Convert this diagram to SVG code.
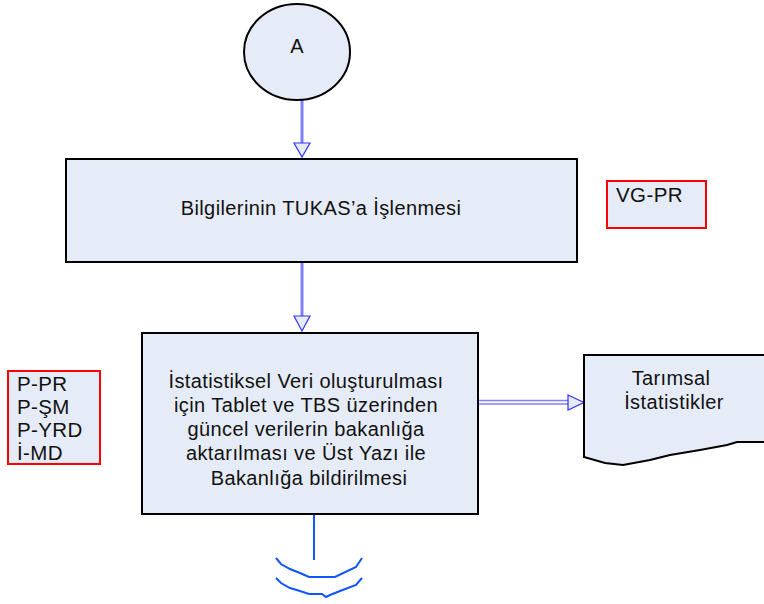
<svg xmlns="http://www.w3.org/2000/svg" width="764" height="604" viewBox="0 0 764 604">
<style>
.shape{fill:#e6ecf7;stroke:#000;stroke-width:2}
.tag{fill:#e6ecf7;stroke:#ff0000;stroke-width:2}
.t{font-family:"Liberation Sans",Arial,sans-serif;font-size:20px;letter-spacing:0.4px;fill:#111}
.tl{font-family:"Liberation Sans",Arial,sans-serif;font-size:20.5px;letter-spacing:0.4px;fill:#111}
.ln{stroke:#7f7fff;stroke-width:3;fill:none}
.head{fill:#e6ecf7;stroke:#3333ff;stroke-width:1.2}
.dl{stroke:#7f7fff;stroke-width:1.3;fill:none}
.bl{stroke:#1155ff;stroke-width:2;fill:none}
</style>
<g id="connectors">
<line class="ln" x1="302" y1="100" x2="302" y2="144"/>
<polygon class="head" points="294,143 310,143 302,157"/>
<line class="ln" x1="302" y1="262" x2="302" y2="317"/>
<polygon class="head" points="294,316 310,316 302,331"/>
<line class="dl" x1="478" y1="400.5" x2="569" y2="400.5"/>
<line class="dl" x1="478" y1="404" x2="569" y2="404"/>
<polygon class="head" points="568,395 584,402.5 568,410"/>
<line class="bl" x1="314" y1="514" x2="314" y2="560"/>
<path class="bl" d="M276,558 L281,564 L290,569 L300,573 L309,577 L335,577 L356,567 L362,558"/>
<path class="bl" d="M276,578 L281,583 L290,588 L300,591 L309,594 L322,594 L326,597 L330,595 L340,591 L356,585 L362,578"/>
</g>
<g id="nodeA">
<ellipse class="shape" cx="297" cy="52" rx="53" ry="48"/>
<text class="t" x="297" y="53" text-anchor="middle">A</text>
</g>
<g id="node1">
<rect class="shape" x="66" y="159" width="511" height="103"/>
<text class="t" x="321" y="215" text-anchor="middle">Bilgilerinin TUKAS’a İşlenmesi</text>
</g>
<g id="vgpr">
<rect class="tag" x="607" y="181" width="99" height="47"/>
<text class="tl" x="616" y="202">VG-PR</text>
</g>
<g id="node2">
<rect class="shape" x="142" y="333" width="336" height="181"/>
<text class="t" text-anchor="middle">
<tspan x="309" y="388">İstatistiksel Veri oluşturulması</tspan>
<tspan x="309" y="412">için Tablet ve TBS üzerinden</tspan>
<tspan x="309" y="436">güncel verilerin bakanlığa</tspan>
<tspan x="309" y="460">aktarılması ve Üst Yazı ile</tspan>
<tspan x="309" y="485">Bakanlığa bildirilmesi</tspan>
</text>
</g>
<g id="roles">
<rect class="tag" x="8" y="371" width="92" height="93"/>
<text class="tl">
<tspan x="17" y="391">P-PR</tspan>
<tspan x="17" y="414">P-ŞM</tspan>
<tspan x="17" y="437">P-YRD</tspan>
<tspan x="17" y="460">İ-MD</tspan>
</text>
</g>
<g id="doc">
<path class="shape" d="M584,355 L766,355 L766,442 L737,442 L727,445 L700,450 L670,455 L650,460 L623,465 L605,463 L584,457 Z"/>
<text class="t" text-anchor="middle">
<tspan x="674" y="385">Tarımsal</tspan>
<tspan x="674" y="409">İstatistikler</tspan>
</text>
</g>
</svg>
